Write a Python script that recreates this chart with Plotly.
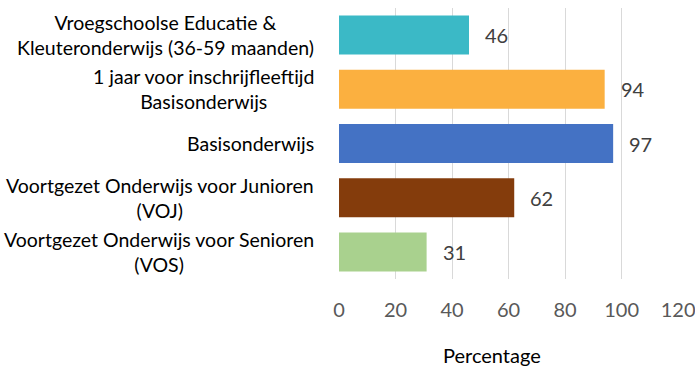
import plotly.graph_objects as go

categories = [
    "Vroegschoolse Educatie &<br>Kleuteronderwijs (36-59 maanden)",
    "1 jaar voor inschrijfleeftijd<br>Basisonderwijs",
    "Basisonderwijs",
    "Voortgezet Onderwijs voor Junioren<br>(VOJ)",
    "Voortgezet Onderwijs voor Senioren<br>(VOS)",
]
values = [46, 94, 97, 62, 31]
colors = ["#3BB9C6", "#FBB040", "#4472C4", "#843C0C", "#A9D18E"]
x_ticks = [0, 20, 40, 60, 80, 100, 120]
x_title = "Percentage"

FONT = "Lato"

fig = go.Figure(
    go.Bar(
        y=list(range(len(categories))),
        x=values,
        orientation="h",
        marker=dict(color=colors, line=dict(width=0)),
        width=0.72,
        hoverinfo="skip",
    )
)

# value labels to the right of each bar
for i, v in enumerate(values):
    fig.add_annotation(
        x=v, y=i, xref="x", yref="y", text=str(v),
        xanchor="left", yanchor="middle", xshift=14, showarrow=False,
        font=dict(family=FONT, size=20, color="#404040"),
    )

# category labels, centred line by line
for i, c in enumerate(categories):
    fig.add_annotation(
        x=0, y=i, xref="paper", yref="y", text=c,
        xanchor="right", yanchor="middle", xshift=-23, showarrow=False,
        align="center",
        font=dict(family=FONT, size=19.5, color="#000000"),
    )

# axis title below the tick labels
fig.add_annotation(
    x=0.45, y=0, xref="paper", yref="paper", text=x_title,
    xanchor="center", yanchor="middle", yshift=-76, showarrow=False,
    font=dict(family=FONT, size=20, color="#000000"),
)

fig.update_layout(
    width=695, height=367,
    margin=dict(l=339, r=16, t=8, b=88, autoexpand=False),
    paper_bgcolor="white", plot_bgcolor="white",
    showlegend=False,
    bargap=0.28,
    xaxis=dict(
        range=[0, 120.3], tickvals=x_ticks, ticktext=[str(t) for t in x_ticks],
        showgrid=True, gridcolor="#D9D9D9", gridwidth=1,
        zeroline=False, showline=False, ticks="", automargin=False,
        ticklabelstandoff=17, ticklabeloverflow="allow",
        tickfont=dict(family=FONT, size=20, color="#595959"),
    ),
    yaxis=dict(
        range=[len(categories) - 0.5, -0.5], showticklabels=False,
        showgrid=False, zeroline=False, showline=False, ticks="",
    ),
)

fig.write_html("out.html")
